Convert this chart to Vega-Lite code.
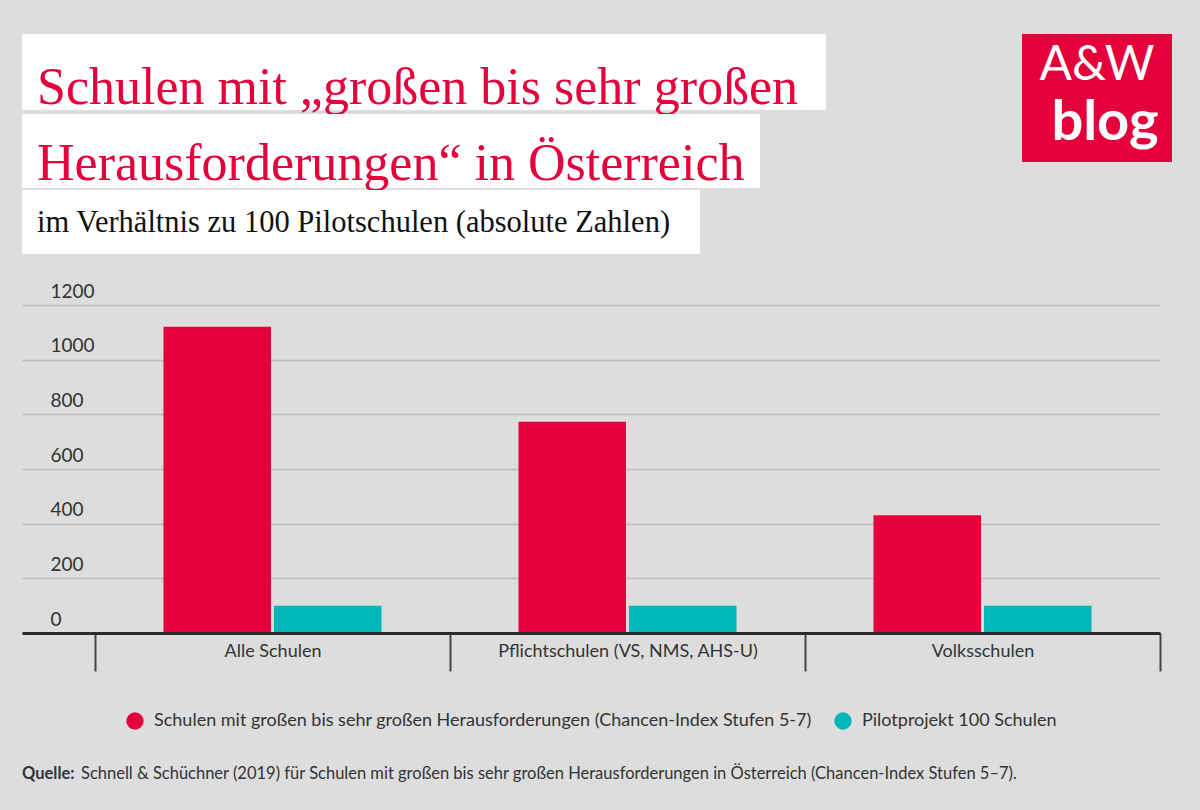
{
  "$schema": "https://vega.github.io/schema/vega-lite/v6.json",
  "background": "#dddddd",
  "padding": {"left": 22, "top": 34, "right": 28, "bottom": 28},
  "config": {"view": {"stroke": null}, "font": "Lato", "legend": {"layout": {"bottom": {"anchor": "middle"}}}},
  "spacing": 28,
  "resolve": {"legend": {"color": "independent"}, "scale": {"color": "independent"}},
  "vconcat": [
    {
      "spacing": 196,
      "hconcat": [
        {
          "spacing": 0,
          "vconcat": [
            {
              "width": 804, "height": 76,
              "view": {"fill": "white", "stroke": null},
              "data": {"values": [{"t": "Schulen mit „großen bis sehr großen"}]},
              "mark": {"type": "text", "align": "left", "baseline": "alphabetic", "dx": 15, "dy": 32, "font": "Liberation Serif", "fontSize": 52, "color": "#e4003a"},
              "encoding": {"x": {"datum": 0, "type": "quantitative", "scale": {"domain": [0, 1]}, "axis": null}, "text": {"field": "t"}}
            },
            {
              "width": 738, "height": 74,
              "view": {"fill": "white", "stroke": null},
              "data": {"values": [{"t": "Herausforderungen“ in Österreich"}]},
              "mark": {"type": "text", "align": "left", "baseline": "alphabetic", "dx": 15, "dy": 29, "font": "Liberation Serif", "fontSize": 52, "color": "#e4003a"},
              "encoding": {"x": {"datum": 0, "type": "quantitative", "scale": {"domain": [0, 1]}, "axis": null}, "text": {"field": "t"}}
            },
            {
              "width": 678, "height": 64,
              "view": {"fill": "white", "stroke": null},
              "data": {"values": [{"t": "im Verhältnis zu 100 Pilotschulen (absolute Zahlen)"}]},
              "mark": {"type": "text", "align": "left", "baseline": "alphabetic", "dx": 15, "dy": 10, "font": "Liberation Serif", "fontSize": 30.5, "color": "#111111"},
              "encoding": {"x": {"datum": 0, "type": "quantitative", "scale": {"domain": [0, 1]}, "axis": null}, "text": {"field": "t"}}
            }
          ]
        },
        {
          "spacing": 0,
          "vconcat": [
            {
              "width": 150, "height": 60,
              "view": {"fill": "#e4003a", "stroke": null},
              "data": {"values": [{"t": "A&W"}]},
              "mark": {"type": "text", "baseline": "middle", "font": "Lato", "fontSize": 48, "color": "white", "dy": 2},
              "encoding": {"text": {"field": "t"}}
            },
            {
              "width": 150, "height": 68,
              "view": {"fill": "#e4003a", "stroke": null},
              "data": {"values": [{"t": "blog"}]},
              "mark": {"type": "text", "baseline": "middle", "font": "Lato", "fontWeight": "bold", "fontSize": 56, "color": "white", "dy": -5, "dx": 8},
              "encoding": {"text": {"field": "t"}}
            }
          ]
        }
      ]
    },
    {
      "width": 1138,
      "height": 328,
      "data": {
        "values": [
          {"kategorie": "Alle Schulen", "gruppe": "Schulen mit großen bis sehr großen Herausforderungen (Chancen-Index Stufen 5-7)", "anzahl": 1120},
          {"kategorie": "Alle Schulen", "gruppe": "Pilotprojekt 100 Schulen", "anzahl": 100},
          {"kategorie": "Pflichtschulen (VS, NMS, AHS-U)", "gruppe": "Schulen mit großen bis sehr großen Herausforderungen (Chancen-Index Stufen 5-7)", "anzahl": 773},
          {"kategorie": "Pflichtschulen (VS, NMS, AHS-U)", "gruppe": "Pilotprojekt 100 Schulen", "anzahl": 100},
          {"kategorie": "Volksschulen", "gruppe": "Schulen mit großen bis sehr großen Herausforderungen (Chancen-Index Stufen 5-7)", "anzahl": 431},
          {"kategorie": "Volksschulen", "gruppe": "Pilotprojekt 100 Schulen", "anzahl": 100}
        ]
      },
      "mark": {"type": "bar"},
      "encoding": {
        "x": {
          "field": "kategorie", "type": "nominal",
          "sort": ["Alle Schulen", "Pflichtschulen (VS, NMS, AHS-U)", "Volksschulen"],
          "scale": {"paddingInner": 0, "paddingOuter": 0.1028, "align": 1},
          "axis": {"title": null, "tickBand": "extent", "labelAngle": 0, "domainColor": "#2b2b2b", "domainWidth": 3, "tickColor": "#444444", "tickWidth": 2, "tickSize": 38, "labelPadding": -29, "labelBaseline": "top", "labelFontSize": 18, "labelColor": "#333333", "grid": false, "zindex": 1, "labelLimit": 400}
        },
        "xOffset": {
          "field": "gruppe", "type": "nominal",
          "sort": ["Schulen mit großen bis sehr großen Herausforderungen (Chancen-Index Stufen 5-7)", "Pilotprojekt 100 Schulen"],
          "scale": {"paddingInner": 0.027, "paddingOuter": 0.62}
        },
        "y": {
          "field": "anzahl", "type": "quantitative",
          "scale": {"domain": [0, 1200], "nice": false},
          "axis": {"title": null, "values": [0, 200, 400, 600, 800, 1000, 1200], "format": "d", "domain": false, "ticks": false, "tickSize": 0, "labelAlign": "left", "labelBaseline": "bottom", "labelPadding": -28, "labelOffset": -4, "labelFontSize": 19, "labelColor": "#333333", "gridColor": "#bcbcbc", "gridWidth": 1.5}
        },
        "color": {
          "field": "gruppe", "type": "nominal",
          "scale": {"domain": ["Schulen mit großen bis sehr großen Herausforderungen (Chancen-Index Stufen 5-7)", "Pilotprojekt 100 Schulen"], "range": ["#e4003a", "#00b5b5"]},
          "legend": {"title": null, "orient": "bottom", "direction": "horizontal", "symbolType": "circle", "symbolSize": 300, "symbolStrokeWidth": 0, "labelFontSize": 18, "labelColor": "#333333", "labelLimit": 900, "columnPadding": 22, "offset": 40, "labelOffset": 10}
        }
      }
    },
    {
      "width": 1150, "height": 20,
      "data": {"values": [{"a": "Quelle:", "b": "Schnell & Schüchner (2019) für Schulen mit großen bis sehr großen Herausforderungen in Österreich (Chancen-Index Stufen 5–7)."}]},
      "layer": [
        {
          "mark": {"type": "text", "align": "left", "baseline": "middle", "fontSize": 16.5, "fontWeight": "bold", "color": "#333333", "dy": 6},
          "encoding": {"x": {"datum": 0, "type": "quantitative", "scale": {"domain": [0, 1]}, "axis": null}, "text": {"field": "a"}}
        },
        {
          "mark": {"type": "text", "align": "left", "baseline": "middle", "fontSize": 16.5, "color": "#333333", "dx": 59, "dy": 6},
          "encoding": {"x": {"datum": 0, "type": "quantitative", "scale": {"domain": [0, 1]}, "axis": null}, "text": {"field": "b"}}
        }
      ]
    }
  ]
}
